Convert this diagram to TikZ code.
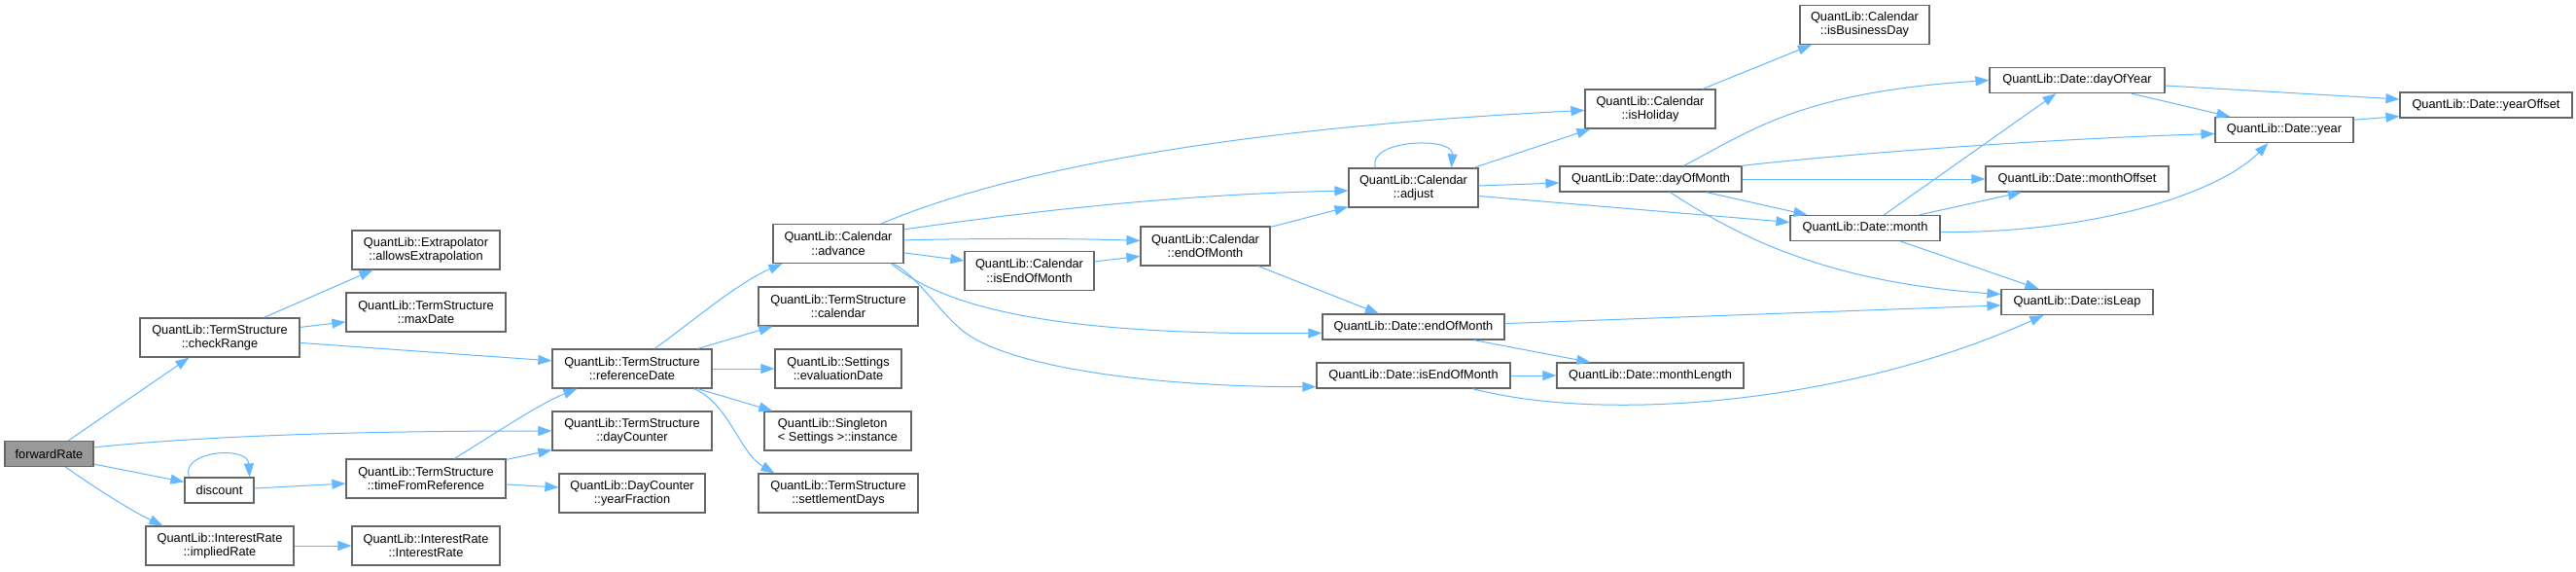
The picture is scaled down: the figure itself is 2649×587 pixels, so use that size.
\documentclass[tikz,border=0pt]{standalone}
\usepackage{fontspec}
\setmainfont{Liberation Sans}
\usetikzlibrary{arrows.meta,calc}
\definecolor{edgeblue}{HTML}{63B8FF}
\definecolor{boxgray}{HTML}{666666}
\definecolor{rootfill}{HTML}{999999}
\tikzset{
  fn/.style={draw=boxgray, fill=white, line width=1.2pt, inner sep=0pt, align=center,
             font=\fontsize{12.8}{14.3}\selectfont, text=black},
  root/.style={fn, fill=rootfill},
  hone/.style={minimum height=26pt},
  htwo/.style={minimum height=40pt},
  call/.style={draw=edgeblue, line width=1pt, -{Triangle[length=14pt,width=10pt]}}
}
\begin{document}
\begin{tikzpicture}[x=1pt,y=-1pt]
\fill[white] (0,0) rectangle (2649,587);
\useasboundingbox (0,0) rectangle (2649,587);
% nodes
\node[root,hone,minimum width=91pt] (fr) at (50.5,466.5) {forwardRate};
\node[fn,htwo,minimum width=164pt] (cr) at (226,347) {QuantLib::TermStructure\\::checkRange};
\node[fn,htwo,minimum width=152pt] (ae) at (438,257) {QuantLib::Extrapolator\\::allowsExtrapolation};
\node[fn,htwo,minimum width=164pt] (md) at (438,321) {QuantLib::TermStructure\\::maxDate};
\node[fn,hone,minimum width=71pt] (dc) at (225.5,504) {discount};
\node[fn,htwo,minimum width=164pt] (tfr) at (438,492) {QuantLib::TermStructure\\::timeFromReference};
\node[fn,htwo,minimum width=152pt] (ir) at (226,561) {QuantLib::InterestRate\\::impliedRate};
\node[fn,htwo,minimum width=152pt] (irc) at (438,561) {QuantLib::InterestRate\\::InterestRate};
\node[fn,htwo,minimum width=164pt] (rd) at (650,379) {QuantLib::TermStructure\\::referenceDate};
\node[fn,htwo,minimum width=164pt] (dcnt) at (650,443) {QuantLib::TermStructure\\::dayCounter};
\node[fn,htwo,minimum width=150pt] (yf) at (650,507) {QuantLib::DayCounter\\::yearFraction};
\node[fn,htwo,minimum width=134pt] (adv) at (862,250.5) {QuantLib::Calendar\\::advance};
\node[fn,htwo,minimum width=164pt] (cal) at (862,315) {QuantLib::TermStructure\\::calendar};
\node[fn,htwo,minimum width=130pt] (ed) at (862,379) {QuantLib::Settings\\::evaluationDate};
\node[fn,htwo,minimum width=151pt,align=left] (sg) at (861.5,443) {QuantLib::Singleton\\< Settings >::instance};
\node[fn,htwo,minimum width=164pt] (sd) at (862,507) {QuantLib::TermStructure\\::settlementDays};
\node[fn,htwo,minimum width=133pt] (ceom) at (1058.5,278.5) {QuantLib::Calendar\\::isEndOfMonth};
\node[fn,htwo,minimum width=133pt] (cendm) at (1239.5,253) {QuantLib::Calendar\\::endOfMonth};
\node[fn,htwo,minimum width=133pt] (adj) at (1453.5,193) {QuantLib::Calendar\\::adjust};
\node[fn,htwo,minimum width=134pt] (hol) at (1697,112) {QuantLib::Calendar\\::isHoliday};
\node[fn,htwo,minimum width=133pt] (bd) at (1917.5,25.5) {QuantLib::Calendar\\::isBusinessDay};
\node[fn,hone,minimum width=187pt] (dendm) at (1453.5,336) {QuantLib::Date::endOfMonth};
\node[fn,hone,minimum width=199pt] (deom) at (1453.5,386) {QuantLib::Date::isEndOfMonth};
\node[fn,hone,minimum width=187pt] (dom) at (1697.5,184) {QuantLib::Date::dayOfMonth};
\node[fn,hone,minimum width=192pt] (ml) at (1697,386) {QuantLib::Date::monthLength};
\node[fn,hone,minimum width=154pt] (mon) at (1918,234.5) {QuantLib::Date::month};
\node[fn,hone,minimum width=180pt] (doy) at (2136,82.5) {QuantLib::Date::dayOfYear};
\node[fn,hone,minimum width=188pt] (mo) at (2136,184) {QuantLib::Date::monthOffset};
\node[fn,hone,minimum width=156pt] (lp) at (2136,310.5) {QuantLib::Date::isLeap};
\node[fn,hone,minimum width=142pt] (yr) at (2349,133.5) {QuantLib::Date::year};
\node[fn,hone,minimum width=177pt] (yo) at (2556.5,108) {QuantLib::Date::yearOffset};
% edges
\draw[call] ($(fr.north west)+(66,0)$) -- ($(cr.south west)+(51,0)$);
\draw[call] ($(fr.north east)+(0,7)$) .. controls (200,449) and (350,443) .. (dcnt.west);
\draw[call] ($(fr.south east)+(0,-3)$) -- ($(dc.north west)+(0,5)$);
\draw[call] ($(fr.south west)+(63,0)$) .. controls (100,503) and (135,525) .. ($(ir.north west)+(18,0)$);
\draw[call] ($(dc.north west)+(5,0)$) .. controls (185,463) and (255,458) .. ($(dc.north east)+(-5,0)$);
\draw[call] ($(dc.east)+(0,-2)$) -- ($(tfr.west)+(0,5)$);
\draw[call] (ir.east) -- (irc.west);
\draw[call] ($(cr.north west)+(128,0)$) -- ($(ae.south west)+(22,0)$);
\draw[call] ($(cr.north east)+(0,10)$) -- ($(md.west)+(0,10)$);
\draw[call] ($(cr.north east)+(0,26)$) -- ($(rd.north west)+(0,12.5)$);
\draw[call] ($(tfr.north west)+(112,0)$) .. controls (510,445) and (555,415) .. ($(rd.south west)+(26,0)$);
\draw[call] ($(tfr.north east)+(0,1)$) -- ($(dcnt.south west)+(0,-1)$);
\draw[call] ($(tfr.east)+(0,6)$) -- ($(yf.west)+(0,-6)$);
\draw[call] ($(rd.north west)+(106,0)$) .. controls (715,328) and (760,290) .. ($(adv.south west)+(10,0)$);
\draw[call] ($(rd.north east)+(-15,0)$) -- ($(cal.south west)+(15,0)$);
\draw[call] (rd.east) -- (ed.west);
\draw[call] ($(rd.south east)+(-15,0)$) -- ($(sg.north west)+(9,0)$);
\draw[call] ($(rd.south east)+(-19,0)$) .. controls (750,415) and (760,465) .. ($(sd.north west)+(17,0)$);
\draw[call] ($(adv.north west)+(112,0)$) .. controls (1000,190) and (1200,135) .. ($(hol.north west)+(0,22)$);
\draw[call] ($(adv.north east)+(0,6)$) .. controls (1040,220) and (1200,200) .. ($(adj.north west)+(0,23.6)$);
\draw[call] ($(adv.north east)+(0,17)$) .. controls (1000,245) and (1100,245) .. ($(cendm.north west)+(0,15)$);
\draw[call] ($(adv.north east)+(0,30)$) -- ($(ceom.north west)+(0,10)$);
\draw[call] ($(adv.south east)+(-13,0)$) .. controls (975,320) and (1100,345) .. ($(dendm.north west)+(0,20)$);
\draw[call] ($(adv.south east)+(-11,0)$) .. controls (945,285) and (965,320) .. (990,340) .. controls (1040,380) and (1200,398) .. ($(deom.south west)+(0,-2)$);
\draw[call] ($(ceom.north east)+(0,11)$) -- ($(cendm.north west)+(0,31)$);
\draw[call] ($(cendm.north east)+(0,1)$) -- ($(adj.south west)+(0,-1)$);
\draw[call] ($(cendm.south east)+(-12.5,0)$) -- ($(dendm.north west)+(58.5,0)$);
\draw[call] ($(adj.north west)+(28,0)$) .. controls (1405,143) and (1495,140) .. ($(adj.north east)+(-28,0)$);
\draw[call] ($(adj.north east)+(-5,0)$) -- ($(hol.south west)+(6,0)$);
\draw[call] ($(adj.east)+(0,-2)$) -- ($(dom.west)+(0,4)$);
\draw[call] ($(adj.east)+(0,8.5)$) -- ($(mon.west)+(0,-6)$);
\draw[call] ($(hol.north east)+(-13.6,0)$) -- ($(bd.south west)+(12.4,0)$);
\draw[call] ($(dom.north west)+(128,0)$) .. controls (1800,135) and (1850,95) .. (doy.west);
\draw[call] ($(dom.north east)+(-1,0)$) .. controls (1900,158) and (2100,143) .. ($(yr.west)+(0,4)$);
\draw[call] (dom.east) -- (mo.west);
\draw[call] ($(dom.south east)+(-37,0)$) -- ($(mon.north west)+(18,0)$);
\draw[call] ($(dom.south west)+(114,0)$) .. controls (1790,245) and (1880,290) .. ($(lp.west)+(0,-8)$);
\draw[call] ($(mon.north west)+(97,0)$) -- ($(doy.south west)+(69,0)$);
\draw[call] ($(mon.north east)+(-22,0)$) -- ($(mo.south west)+(37.5,0)$);
\draw[call] ($(mon.east)+(0,4)$) .. controls (2150,240) and (2280,200) .. ($(yr.south west)+(55,0)$);
\draw[call] ($(mon.south west)+(114,0)$) -- ($(lp.north west)+(39,0)$);
\draw[call] ($(dendm.east)+(0,-3.4)$) -- ($(lp.west)+(0,3.4)$);
\draw[call] ($(dendm.south east)+(-32,0)$) -- ($(ml.north west)+(35,0)$);
\draw[call] (deom.east) -- (ml.west);
\draw[call] ($(deom.south west)+(161,0)$) .. controls (1650,435) and (1900,415) .. ($(lp.south west)+(44,0)$);
\draw[call] ($(doy.east)+(0,5.5)$) -- ($(yo.west)+(0,-6)$);
\draw[call] ($(doy.south east)+(-35,0)$) -- ($(yr.north west)+(16,0)$);
\draw[call] ($(yr.north east)+(0,3.3)$) -- ($(yo.south west)+(0,-2)$);
\end{tikzpicture}
\end{document}
